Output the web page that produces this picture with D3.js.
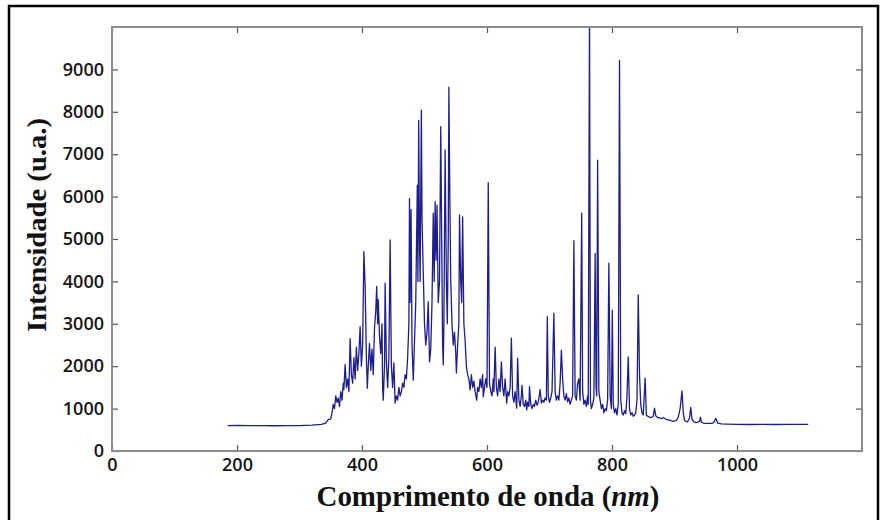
<!DOCTYPE html>
<html>
<head>
<meta charset="utf-8">
<script src="https://cdn.jsdelivr.net/npm/d3@7"></script>
<style>
body { margin: 0; background: #fff; }
svg { display: block; }
.tick text { font-family: "Open Sans", sans-serif; font-size: 18px; font-weight: 600; fill: #151515; }
.tick line { stroke: #555; stroke-width: 1.2; }
</style>
</head>
<body>
<svg></svg>
<script>
// spectrum: wavelength (nm) and intensity (u.a.)
var wavelength = [
  185, 200, 220, 240, 260, 280, 300, 320, 335, 342, 346, 350, 352, 354, 356, 358, 360, 362, 364, 366,
  368, 370, 371, 373, 375, 377, 379, 381, 383, 385, 387, 389, 391, 393, 395, 397, 399, 401, 403, 405,
  407, 408.5, 410, 412, 414, 416, 418, 420, 422, 423.5, 425, 426, 428, 430, 432, 433, 434, 436, 437, 439,
  441, 443, 445, 447, 449, 451, 453, 455, 457, 459, 461, 463, 465, 467, 469, 471, 473, 475, 476, 477,
  478.5, 480, 482, 484, 486, 488.5, 489.5, 490.7, 492, 493, 495, 496, 498, 500, 502, 504, 506, 508, 510, 512,
  514, 515.5, 517, 518.5, 520, 522, 524, 526, 527.5, 529, 530, 531, 533, 535, 536.5, 538, 539, 540.5, 542, 544,
  546, 548, 550, 551, 553, 555, 556, 558, 559.5, 561, 563, 565, 567, 569, 571, 573, 575, 577, 579, 581,
  583.5, 585, 587, 589, 591, 593, 594, 596, 598, 600, 602, 604, 606, 608, 610, 611, 613, 615, 617, 619,
  621, 623, 625, 627, 629, 631.5, 633, 635, 637, 639, 641, 643, 645, 647.5, 649, 651, 653, 655, 656, 658,
  660, 662, 663.5, 665, 667, 668, 670, 672, 674, 676, 678, 680, 682, 685, 687, 689, 691, 693, 695, 696.5,
  698, 700, 702, 704, 705, 707, 709, 711, 713, 715, 717, 719, 721, 723, 725, 727, 729, 731, 733, 735,
  737, 739, 741, 743, 745, 747, 749, 751.5, 753, 755, 757, 759, 761, 762, 764, 765.5, 767, 769, 771, 773,
  774.5, 775.5, 777, 779, 781, 783, 785, 787, 789, 791, 793, 795, 797, 799, 800.5, 802, 804, 806, 808, 810,
  812, 814, 816, 818, 820, 822, 824, 826, 828, 830, 832, 834, 836, 838, 840, 842, 844, 846, 848, 850,
  853, 855, 857, 860, 863, 866, 868, 870, 873, 876, 879, 882, 885, 888, 891, 894, 897, 900, 903, 906,
  909, 912, 914, 916, 918, 921, 924, 926, 928, 931, 934, 937, 940, 941.5, 943, 946, 950, 955, 960, 963,
  966, 969, 975, 985, 1000, 1020, 1040, 1060, 1080, 1100, 1114
];
var intensity = [
  600, 605, 600, 598, 595, 598, 600, 610, 630, 660, 740, 760, 900, 1100, 1000, 1300, 1150, 1250, 1050, 1400,
  1200, 1600, 1450, 2040, 1500, 1700, 1400, 2650, 1800, 1600, 2200, 1700, 2450, 1900, 2300, 2930, 2000, 2500, 4700, 3900,
  2200, 1480, 2000, 2540, 1900, 2400, 1800, 2900, 3300, 3880, 3000, 3570, 2700, 2300, 3000, 1500, 1200, 2000, 3960, 2100,
  1500, 2200, 4980, 2000, 1500, 2080, 1130, 1300, 1200, 1500, 1300, 1400, 1600, 1500, 1800, 1700, 2200, 3000, 5960, 3500,
  5690, 2500, 1670, 2600, 3500, 6270, 4000, 7800, 5000, 4000, 8040, 5500, 4200, 3000, 2500, 2800, 3520, 2100, 2400, 3500,
  5610, 4000, 5880, 4500, 5800, 3500, 4000, 7650, 5000, 2500, 2030, 3000, 7100, 4000, 3000, 5000, 8580, 6000, 4000, 3000,
  2500, 2800, 2300, 1840, 2500, 3000, 5570, 4000, 3500, 5520, 3000, 2600, 2000, 1800, 1700, 1440, 1800, 1500, 1650, 1400,
  1200, 1500, 1400, 1700, 1500, 1800, 1280, 1500, 1700, 1500, 6330, 1600, 1400, 1300, 1700, 1400, 2450, 1500, 1300, 1700,
  1400, 2100, 1500, 1300, 1700, 1130, 1400, 1300, 1500, 2660, 1300, 1150, 1400, 1010, 2190, 1200, 1050, 1300, 1550, 1100,
  1050, 1200, 970, 1150, 1050, 1520, 1100, 1000, 1100, 1050, 1200, 1080, 1150, 1450, 1130, 1200, 1150, 1250, 1200, 3170,
  1300, 1150, 1250, 1400, 2000, 3250, 1400, 1200, 1300, 1200, 1600, 2380, 1700, 1300, 1200, 1350, 1160, 1250, 1100, 1200,
  1300, 4960, 1300, 1200, 1600, 1700, 1200, 5610, 1400, 1100, 1200, 1050, 1300, 1100, 10400, 1200, 1000, 1100, 1250, 4660,
  1500, 1300, 6860, 1400, 1200, 1000, 1100, 900, 1000, 950, 1200, 4430, 1300, 1000, 3320, 1100, 900, 1000, 850, 1100,
  9210, 1200, 900, 850, 950, 880, 1300, 2220, 1000, 850, 900, 820, 850, 900, 1200, 3680, 1800, 1100, 900, 850,
  1720, 850, 820, 800, 790, 820, 1010, 830, 790, 780, 760, 790, 760, 740, 730, 720, 700, 710, 720, 800,
  1000, 1420, 900, 720, 700, 690, 780, 1030, 750, 690, 670, 680, 700, 800, 680, 660, 650, 650, 650, 680,
  770, 660, 640, 635, 630, 625, 628, 625, 630, 628, 630
];
var xTicks = [0, 200, 400, 600, 800, 1000];
var yTicks = [0, 1000, 2000, 3000, 4000, 5000, 6000, 7000, 8000, 9000];

var width = 881;
var height = 520;
var plotLeft = 112, plotRight = 862, plotTop = 27, plotBottom = 451;

var spectrum = wavelength.map((w, i) => ({wl: w, val: intensity[i]}));

var xScale = d3.scaleLinear()
                .domain([0, 1200])
                .range([plotLeft, plotRight]);
var yScale = d3.scaleLinear()
                .domain([0, 10000])
                .range([plotBottom, plotTop]);

var svg = d3.select("svg")
    .attr("width", width)
    .attr("height", height);

// outer frame of the figure
svg.append("rect")
    .attr("x", 9)
    .attr("y", 6)
    .attr("width", 869)
    .attr("height", 530)
    .attr("fill", "none")
    .attr("stroke", "#000")
    .attr("stroke-width", 2.5);

svg.append("clipPath")
    .attr("id", "plotclip")
    .append("rect")
        .attr("x", plotLeft)
        .attr("y", plotTop)
        .attr("width", plotRight - plotLeft)
        .attr("height", plotBottom - plotTop);

var line = d3.line()
    .x(d => xScale(d.wl))
    .y(d => yScale(d.val));

svg.append("path")
    .datum(spectrum)
    .attr("clip-path", "url(#plotclip)")
    .attr("d", line)
    .attr("fill", "none")
    .attr("stroke", "#1d1d90")
    .attr("stroke-width", 1.3)
    .attr("stroke-linejoin", "round");

// matlab style: ticks inside on all four sides
var fmt = d3.format("d");
var xAxis = d3.axisBottom(xScale).tickValues(xTicks).tickFormat(fmt).tickSizeInner(-6).tickSizeOuter(0).tickPadding(7);
var yAxis = d3.axisLeft(yScale).tickValues(yTicks).tickFormat(fmt).tickSizeInner(-6).tickSizeOuter(0).tickPadding(8);
var xTop = d3.axisTop(xScale).tickValues(xTicks).tickSizeInner(-6).tickSizeOuter(0).tickFormat("");
var yRight = d3.axisRight(yScale).tickValues(yTicks).tickSizeInner(-6).tickSizeOuter(0).tickFormat("");

svg.append("g").attr("transform", `translate(0, ${plotBottom})`).call(xAxis);
svg.append("g").attr("transform", `translate(${plotLeft}, 0)`).call(yAxis);
svg.append("g").attr("transform", `translate(0, ${plotTop})`).call(xTop);
svg.append("g").attr("transform", `translate(${plotRight}, 0)`).call(yRight);
svg.selectAll(".domain").remove();
svg.selectAll(".tick text").attr("font-family", null).attr("font-size", null);

svg.append("rect")
    .attr("x", plotLeft)
    .attr("y", plotTop)
    .attr("width", plotRight - plotLeft)
    .attr("height", plotBottom - plotTop)
    .attr("fill", "none")
    .attr("stroke", "#8c8c8c")
    .attr("stroke-width", 2);

var xLabel = svg.append("text")
    .attr("x", (plotLeft + plotRight) / 2 + 1)
    .attr("y", 506)
    .attr("text-anchor", "middle")
    .attr("font-family", "Liberation Serif, serif")
    .attr("font-weight", "bold")
    .attr("font-size", 29)
    .attr("fill", "#111")
    .attr("textLength", 343)
    .attr("lengthAdjust", "spacingAndGlyphs");
xLabel.append("tspan").text("Comprimento de onda (");
xLabel.append("tspan").attr("font-style", "italic").text("nm");
xLabel.append("tspan").text(")");

svg.append("text")
    .attr("transform", `translate(46, 225) rotate(-90)`)
    .attr("text-anchor", "middle")
    .attr("font-family", "Liberation Serif, serif")
    .attr("font-weight", "bold")
    .attr("font-size", 27)
    .attr("fill", "#111")
    .attr("textLength", 214)
    .attr("lengthAdjust", "spacingAndGlyphs")
    .text("Intensidade (u.a.)");
</script>
</body>
</html>
